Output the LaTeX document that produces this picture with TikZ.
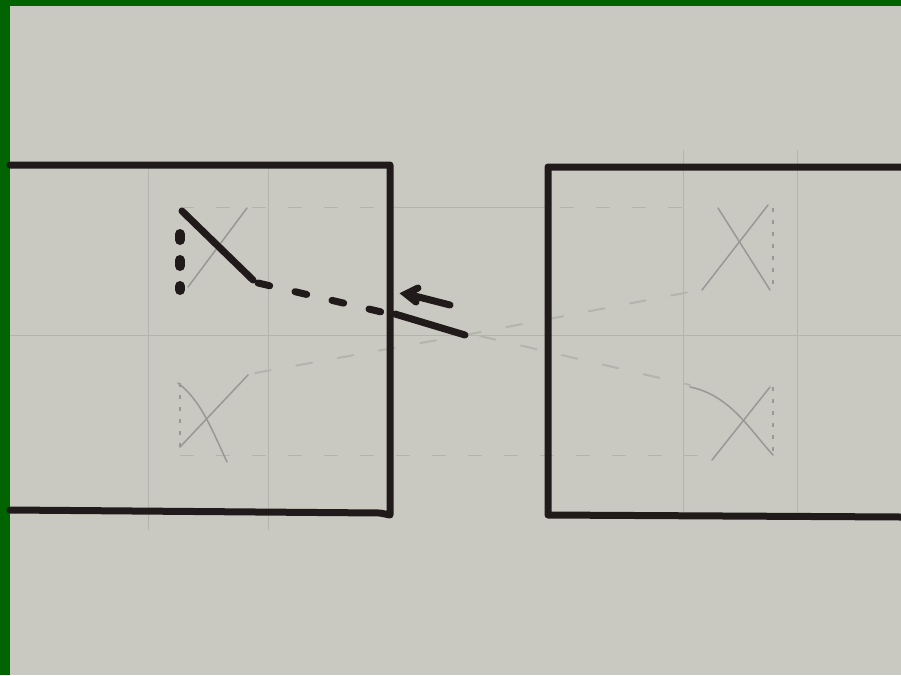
\documentclass[tikz,border=0pt]{standalone}
\usetikzlibrary{arrows.meta}
\definecolor{paper}{RGB}{201,201,193}
\definecolor{frame}{RGB}{0,100,0}
\definecolor{ink}{RGB}{32,26,26}
\definecolor{pencil}{RGB}{152,152,150}
\definecolor{faint}{RGB}{180,180,175}
\tikzset{
  boxline/.style={draw=ink, line width=7pt, line cap=round, line join=round},
  boldink/.style={draw=ink, line width=7pt, line cap=round},
  inkdash/.style={draw=ink, line width=7pt, line cap=round, dash pattern=on 12pt off 26pt},
  inkdots/.style={draw=ink, line width=10pt, line cap=round, dash pattern=on 6pt off 20pt},
  grid/.style={draw=faint, line width=0.7pt},
  griddash/.style={draw=faint, line width=1pt, dash pattern=on 14pt off 22pt},
  pen/.style={draw=pencil, line width=1.5pt, line cap=round},
  pendots/.style={draw=pencil, line width=1.5pt, dash pattern=on 4pt off 8pt},
  pendash/.style={draw=faint, line width=2pt, line cap=round, dash pattern=on 16pt off 26pt},
}
\begin{document}
\begin{tikzpicture}[x=1pt,y=-1pt]
\useasboundingbox (0,0) rectangle (901,675);
\fill[paper] (0,0) rectangle (901,675);
\fill[frame] (0,0) rectangle (901,6);
\fill[frame] (0,0) rectangle (10,675);

% faint pencil grid
\draw[grid] (10,335) -- (901,335);
\draw[grid] (148,165) -- (148,530);
\draw[grid] (268,165) -- (268,530);
\draw[grid] (683,150) -- (683,515);
\draw[grid] (797,150) -- (797,515);
\draw[grid] (390,207) -- (548,207);
\draw[griddash] (180,207) -- (390,207);
\draw[griddash] (560,207) -- (700,207);
\draw[griddash] (180,455) -- (700,455);

% left box pencil X's
\draw[pen] (188,287) -- (247,208);
\draw[pen] (178,383) .. controls (200,400) and (210,425) .. (227,462);
\draw[pen] (180,447) -- (248,375);
\draw[pendots] (180,383) -- (180,447);
% right box pencil X's
\draw[pen] (718,208) -- (770,290);
\draw[pen] (768,205) -- (702,290);
\draw[pendots] (773,208) -- (773,290);
\draw[pen] (690,387) .. controls (730,395) and (750,430) .. (773,455);
\draw[pen] (712,460) -- (770,387);
\draw[pendots] (773,387) -- (773,455);

% faint dashed sight lines
\draw[pendash] (255,373) -- (465,335);
\draw[pendash] (465,335) -- (700,290);
\draw[pendash] (480,336) -- (690,385);

% boxes
\draw[boxline] (10,165) -- (390,165) -- (390,515) -- (380,513) -- (10,510);
\draw[boxline] (901,167) -- (548,167) -- (548,515) -- (901,517);

% bold ink marks
\draw[inkdots] (180,234) -- (180,290);
\draw[boldink] (182,211) -- (253,280);
\draw[inkdash] (258,283) -- (390,314);
\draw[boldink] (395,314) -- (465,335);
\draw[boldink] (407,294) -- (450,305);
\draw[boldink] (418,288) -- (406,294) -- (416,302);
\end{tikzpicture}
\end{document}
